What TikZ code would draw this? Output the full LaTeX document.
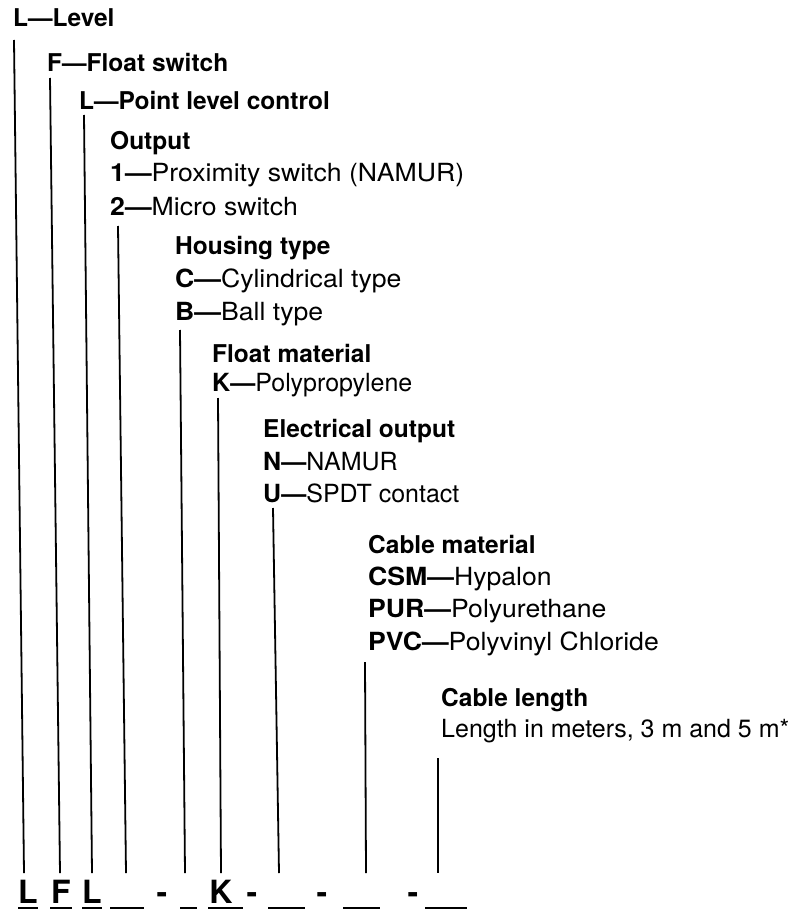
\documentclass[tikz,border=0pt]{standalone}
\usepackage{fontspec}
\setmainfont{TeX Gyre Heros}
\newfontfamily\widefam[FakeStretch=1.065]{TeX Gyre Heros}
\begin{document}
\begin{tikzpicture}[x=1pt,y=-1pt,
  txt/.style={anchor=base west,inner sep=0pt,font=\fontsize{25}{29}\selectfont},
  txtw/.style={anchor=base west,inner sep=0pt,font=\fontsize{25}{29}\selectfont\widefam},
  hd/.style={anchor=base west,inner sep=0pt,font=\fontsize{24.5}{29}\selectfont\bfseries},
  lead/.style={line width=1.8pt},
  codeletter/.style={anchor=base,inner sep=0pt,font=\fontsize{32}{36}\selectfont\bfseries},
  uline/.style={line width=2pt}]
\useasboundingbox (0,0) rectangle (801,912);
% labels
\node[hd]  (n1)  at (13,27)  {L\textemdash Level};
\node[hd]  (n2)  at (47,72)  {F\textemdash Float switch};
\node[hd]  (n3)  at (79,110) {L\textemdash Point level control};
\node[hd]  (n4)  at (110,150) {Output};
\node[txtw] (n5)  at (110,182) {\textbf{1\textemdash}Proximity switch (NAMUR)};
\node[txtw] (n6)  at (110,215) {\textbf{2\textemdash}Micro switch};
\node[hd]  (n7)  at (175,254) {Housing type};
\node[txtw] (n8)  at (175,287) {\textbf{C\textemdash}Cylindrical type};
\node[txtw] (n9)  at (175,320) {\textbf{B\textemdash}Ball type};
\node[hd]  (n10) at (212,362) {Float material};
\node[txt] (n11) at (212,391) {\textbf{K\textemdash}Polypropylene};
\node[hd]  (n12) at (263,437) {Electrical output};
\node[txt] (n13) at (263,470) {\textbf{N\textemdash}NAMUR};
\node[txt] (n14) at (263,502) {\textbf{U\textemdash}SPDT contact};
\node[hd]  (n15) at (368,553) {Cable material};
\node[txtw] (n16) at (368,585) {\textbf{CSM\textemdash}Hypalon};
\node[txtw] (n17) at (368,617) {\textbf{PUR\textemdash}Polyurethane};
\node[txtw] (n18) at (368,650) {\textbf{PVC\textemdash}Polyvinyl Chloride};
\node[hd]  (n19) at (441,706) {Cable length};
\node[txt] (n20) at (441,737) {Length in meters, 3 m and 5 m*};
% code row
\node[codeletter] (c1) at (28,903) {L};
\node[codeletter] (c2) at (61,903) {F};
\node[codeletter] (c3) at (92,903) {L};
\node[codeletter] (d1) at (162,903) {-};
\node[codeletter] (c6) at (221,903) {K};
\node[codeletter] (d2) at (252,903) {-};
\node[codeletter] (d3) at (322,903) {-};
\node[codeletter] (d4) at (413,903) {-};
\draw[uline] (18,908) -- (38,908);
\draw[uline] (50,908) -- (72,908);
\draw[uline] (82,908) -- (102,908);
\draw[uline] (110,908) -- (144,908);
\draw[uline] (180,908) -- (197,908);
\draw[uline] (208,908) -- (243,908);
\draw[uline] (268,908) -- (305,908);
\draw[uline] (343,908) -- (380,908);
\draw[uline] (425,908) -- (467,908);
% leader lines
\coordinate (t1) at (14,40);   \coordinate (b1) at (24,873);
\coordinate (t2) at (50,78);   \coordinate (b2) at (60,873);
\coordinate (t3) at (84,115);  \coordinate (b3) at (92,873);
\coordinate (t4) at (118,226); \coordinate (b4) at (126,873);
\coordinate (t5) at (180,330); \coordinate (b5) at (185,873);
\coordinate (t6) at (218,398); \coordinate (b6) at (221,873);
\coordinate (t7) at (273,508); \coordinate (b7) at (279,873);
\coordinate (t8) at (365,662); \coordinate (b8) at (366,873);
\coordinate (t9) at (438,758); \coordinate (b9) at (438,873);
\foreach \i in {1,...,9} {\draw[lead] (t\i) -- (b\i);}
\end{tikzpicture}
\end{document}
